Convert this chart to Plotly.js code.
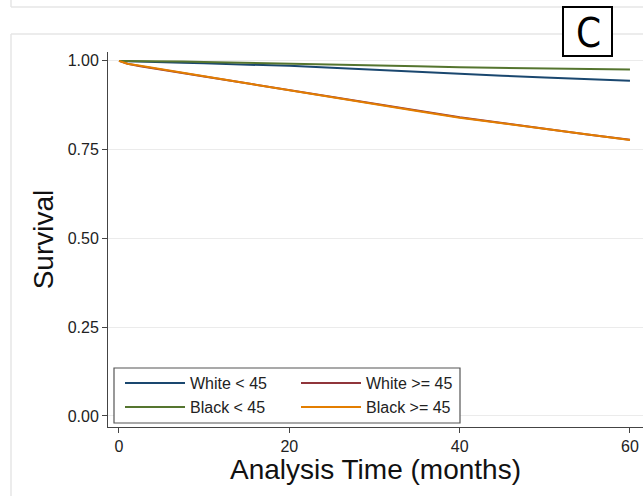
<!DOCTYPE html>
<html>
<head>
<meta charset="utf-8">
<script src="https://cdn.plot.ly/plotly-3.0.1.min.js"></script>
<style>
  html, body { margin: 0; padding: 0; background: #ffffff; }
  #chart { width: 643px; height: 496px; }
</style>
</head>
<body>
<div id="chart"></div>
<script>
// ---- data ----
const timeMonths = [0, 1, 2.5, 5, 7.5, 10, 15, 20, 25, 30, 35, 40, 45, 50, 55, 60];
const whiteUnder45 = [1, 0.9995, 0.999, 0.997, 0.995, 0.993, 0.990, 0.986, 0.981, 0.975, 0.969, 0.9625, 0.958, 0.953, 0.948, 0.944];
const whiteOver45  = [1, 0.992, 0.985, 0.976, 0.966, 0.956, 0.937, 0.918, 0.899, 0.880, 0.860, 0.841, 0.825, 0.808, 0.793, 0.778];
const blackUnder45 = [1, 1, 0.9995, 0.999, 0.998, 0.997, 0.995, 0.9925, 0.990, 0.988, 0.985, 0.982, 0.980, 0.979, 0.977, 0.9755];
const blackOver45  = [1, 0.992, 0.986, 0.977, 0.967, 0.957, 0.937, 0.917, 0.898, 0.879, 0.859, 0.840, 0.824, 0.809, 0.793, 0.777];
const seriesNames = ["White < 45", "White >= 45", "Black < 45", "Black >= 45"];
const yTickVals = [0, 0.25, 0.5, 0.75, 1];
const xTickVals = [0, 20, 40, 60];
const xTitle = "Analysis Time (months)";
const yTitle = "Survival";
const panelLabel = "C";

// ---- layout helpers (figure pixels -> paper coords) ----
const W = 643, H = 496, ML = 108, MR = 0, MT = 52, MB = 69;
const PW = W - ML - MR, PH = H - MT - MB;
const px = x => (x - ML) / PW;
const py = y => (H - MB - y) / PH;

const colors = ["#1a476f", "#90353b", "#55752f", "#e37e00"];
const ys = [whiteUnder45, whiteOver45, blackUnder45, blackOver45];
const legendIds = ["legend", "legend", "legend2", "legend2"];

const traces = ys.map((y, i) => ({
  type: "scatter",
  mode: "lines",
  x: timeMonths,
  y: y,
  name: seriesNames[i],
  legend: legendIds[i],
  line: { color: colors[i], width: 2 },
  hoverinfo: "x+y+name"
}));

const fontFam = "Liberation Sans, Arial, sans-serif";
const frameCol = "#e6e6e6";

const legendCommon = {
  orientation: "h",
  xanchor: "left",
  yanchor: "middle",
  bgcolor: "rgba(0,0,0,0)", borderwidth: 0,
  itemwidth: 60,
  entrywidth: 101, entrywidthmode: "pixels",
  font: { size: 16, color: "#222" },
  traceorder: "normal"
};

const layout = {
  width: W, height: H,
  margin: { l: ML, r: MR, t: MT, b: MB, pad: 0 },
  paper_bgcolor: "#ffffff",
  plot_bgcolor: "#ffffff",
  font: { family: fontFam, color: "#222", size: 16 },
  showlegend: true,
  xaxis: {
    range: [-1.29, 61.53],
    tickvals: xTickVals,
    showgrid: false, zeroline: false,
    showline: true, linecolor: "#444", linewidth: 1,
    ticks: "outside", ticklen: 5, tickcolor: "#444",
    tickfont: { size: 16, color: "#222" },
    automargin: false
  },
  yaxis: {
    range: [-0.031, 1.025],
    tickvals: yTickVals,
    tickformat: ".2f",
    showgrid: true, gridcolor: "#ebebeb", gridwidth: 1,
    zeroline: false,
    showline: true, linecolor: "#444", linewidth: 1,
    ticks: "outside", ticklen: 5, tickcolor: "#444",
    tickfont: { size: 16, color: "#222" },
    title: { text: yTitle, font: { size: 28, color: "#111" }, standoff: 5 },
    automargin: false
  },
  legend: Object.assign({}, legendCommon, { x: px(120), y: py(383) }),
  legend2: Object.assign({}, legendCommon, { x: px(120), y: py(407) }),
  shapes: [
    // top (cropped) panel edge
    { type: "line", xref: "paper", yref: "paper", x0: px(11), x1: px(643), y0: py(7), y1: py(7), line: { color: frameCol, width: 1.5 } },
    { type: "line", xref: "paper", yref: "paper", x0: px(11), x1: px(11), y0: py(0), y1: py(7), line: { color: frameCol, width: 1.5 } },
    // current panel frame
    { type: "line", xref: "paper", yref: "paper", x0: px(11), x1: px(643), y0: py(34), y1: py(34), line: { color: frameCol, width: 1.5 } },
    { type: "line", xref: "paper", yref: "paper", x0: px(11), x1: px(11), y0: py(34), y1: py(496), line: { color: frameCol, width: 1.5 } },
    // panel label box
    { type: "rect", xref: "paper", yref: "paper", x0: px(563), x1: px(612), y0: py(56), y1: py(7), line: { color: "#000", width: 2 }, fillcolor: "#ffffff", layer: "above" },
    // legend frame
    { type: "rect", xref: "paper", yref: "paper", x0: px(114), x1: px(460), y0: py(423), y1: py(368), line: { color: "#555", width: 1.2 }, fillcolor: "#ffffff", layer: "above" }
  ],
  annotations: [
    { text: panelLabel, xref: "paper", yref: "paper", x: px(588), y: py(33), xanchor: "center", yanchor: "middle",
      showarrow: false, font: { family: "Liberation Sans Narrow, DejaVu Sans Condensed, sans-serif", size: 40, color: "#000" } },
    { text: xTitle, xref: "paper", yref: "paper", x: 0.5, y: py(469), xanchor: "center", yanchor: "middle",
      showarrow: false, font: { size: 28, color: "#111" } }
  ]
};

Plotly.newPlot("chart", traces, layout, { displayModeBar: false, staticPlot: true });
</script>
</body>
</html>
